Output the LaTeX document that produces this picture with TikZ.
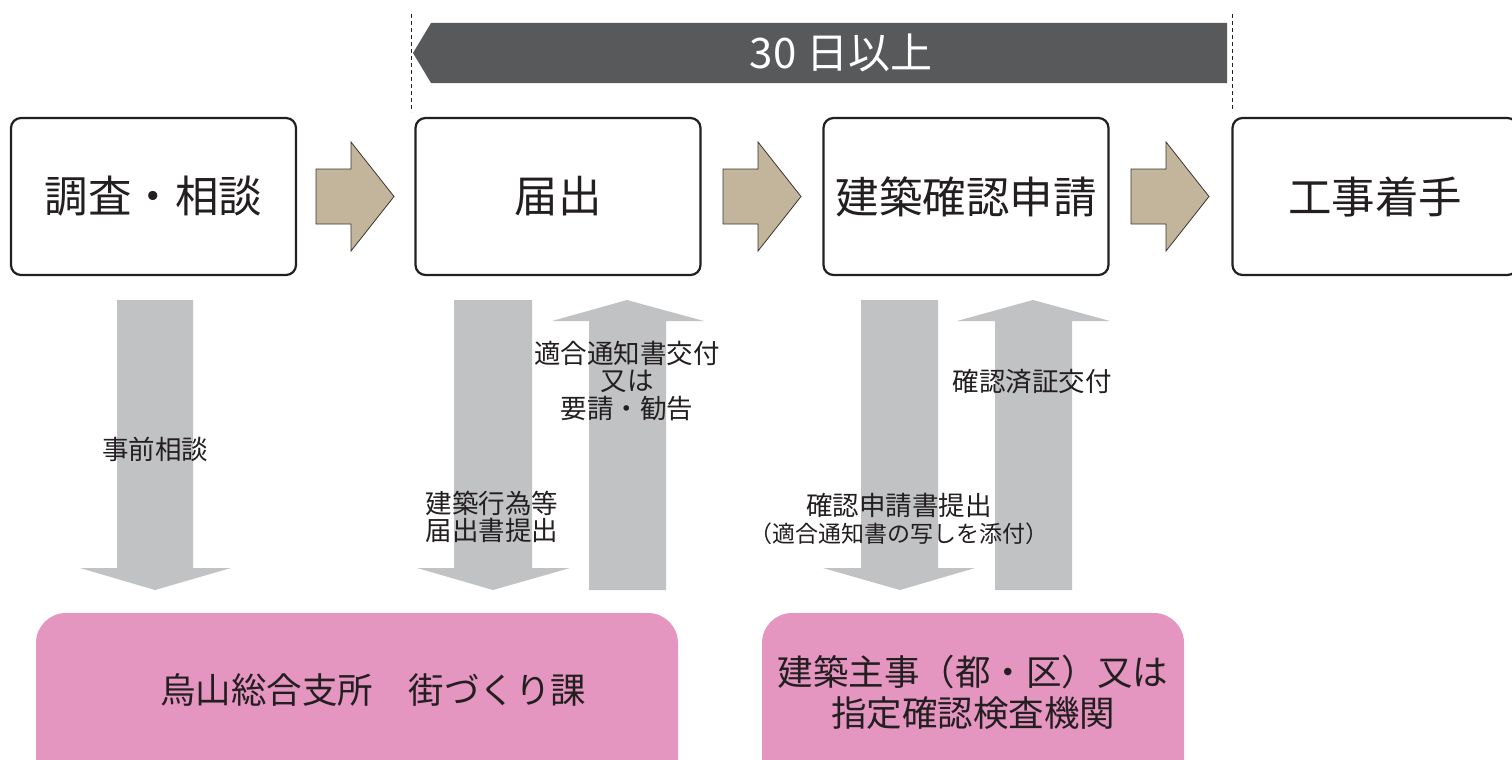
\documentclass[tikz,border=0pt]{standalone}
\usepackage{fontspec}
\setmainfont{Noto Sans CJK JP}
\definecolor{banner}{HTML}{58595B}
\definecolor{chevfill}{HTML}{C2B59B}
\definecolor{chevline}{HTML}{3A3530}
\definecolor{biggray}{HTML}{C1C2C4}
\definecolor{pinkfill}{HTML}{E495C0}
\definecolor{ink}{HTML}{231F20}
\tikzset{
  stepbox/.style={draw=ink, line width=2.2pt, rounded corners=10pt, fill=white,
    minimum width=285pt, minimum height=157pt, inner sep=0pt, text=ink,
    font=\fontsize{43.5}{48}\selectfont},
  chev/.style={fill=chevfill, draw=chevline, line width=0.8pt, line join=miter},
  bigarrow/.style={fill=biggray, draw=none},
  lbl/.style={font=\fontsize{26.5}{27.5}\selectfont, align=center, inner sep=0pt, text=ink},
  pinkbox/.style={fill=pinkfill, draw=none, rounded corners=30pt, inner sep=0pt},
  pinklbl/.style={font=\fontsize{35.5}{41}\selectfont, align=center, inner sep=0pt, text=ink},
  guide/.style={draw=ink, line width=0.8pt, dash pattern=on 4pt off 3pt},
}
\begin{document}
\begin{tikzpicture}[x=1pt,y=-1pt]
\useasboundingbox (0,0) rectangle (1512,760);
% banner
\coordinate (gl1) at (411,14);
\coordinate (gl2) at (411,112);
\coordinate (gr1) at (1232,14);
\coordinate (gr2) at (1232,112);
\draw[guide] (gl1) -- (gl2);
\draw[guide] (gr1) -- (gr2);
\fill[banner] (413,53) -- (431,23) -- (1227,23) -- (1227,83) -- (431,83) -- cycle;
\node[text=white, font=\fontsize{42}{44}\selectfont, inner sep=0pt] (days) at (841,53) {30 日以上};
% step boxes
\node[stepbox] (s1) at (153.5,196.5) {調査・相談};
\node[stepbox] (s2) at (558,196.5) {届出};
\node[stepbox] (s3) at (966,196.5) {建築確認申請};
\node[stepbox] (s4) at (1375,196.5) {工事着手};
% chevrons
\foreach \x in {316,723,1131}{
  \draw[chev] (\x,169) -- ({\x+35},169) -- ({\x+35},142) -- ({\x+78},196.5)
    -- ({\x+35},251) -- ({\x+35},224) -- (\x,224) -- cycle;
}
% big gray arrows
\fill[bigarrow] (117,300) -- (193,300) -- (193,568) -- (231,568) -- (155,590) -- (80,568) -- (117,568) -- cycle;
\fill[bigarrow] (454,300) -- (532,300) -- (532,568) -- (570,568) -- (493,590) -- (417,568) -- (454,568) -- cycle;
\fill[bigarrow] (589,590) -- (666,590) -- (666,321) -- (704,321) -- (627,300) -- (552,321) -- (589,321) -- cycle;
\fill[bigarrow] (861,300) -- (938,300) -- (938,568) -- (975,568) -- (900,590) -- (823,568) -- (861,568) -- cycle;
\fill[bigarrow] (995,590) -- (1072,590) -- (1072,321) -- (1110,321) -- (1033,300) -- (957,321) -- (995,321) -- cycle;
% labels
\node[lbl] (l1) at (155,449) {事前相談};
\node[lbl] (l2) at (492,517) {建築行為等\\届出書提出};
\node[lbl] (l3) at (627,381) {適合通知書交付\\又は\\要請・勧告};
\node[lbl] (l4) at (1032,382) {確認済証交付};
\node[lbl] (l5) at (899,519) {確認申請書提出\\{\fontsize{23}{27.5}\selectfont\kern-12pt（適合通知書の写しを添付）\kern-12pt}};
% pink boxes
\node[pinkbox, minimum width=642pt, minimum height=187pt] (p1) at (357,706.5) {};
\node[pinklbl] (p1t) at (373,690) {烏山総合支所　街づくり課};
\node[pinkbox, minimum width=422pt, minimum height=187pt] (p2) at (973,706.5) {};
\node[pinklbl] (p2t) at (973,692) {建築主事（都・区）又は\\指定確認検査機関};
\end{tikzpicture}
\end{document}
